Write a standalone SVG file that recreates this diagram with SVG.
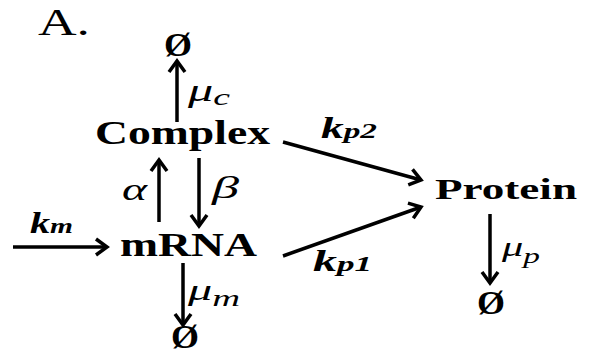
<svg xmlns="http://www.w3.org/2000/svg" width="594" height="355" viewBox="0 0 594 355">
<defs>
<marker id="ah" markerUnits="userSpaceOnUse" markerWidth="18" markerHeight="20" viewBox="0 0 18 20" refX="14" refY="10" orient="auto" overflow="visible">
<path d="M3,2 L14,10 L3,18" fill="none" stroke="#000" stroke-width="3.5" stroke-linejoin="miter"/>
</marker>
</defs>
<style>
text{font-family:'Liberation Serif','Times New Roman',Times,serif;fill:#000}
.node{font-weight:bold}
.k{font-weight:bold;font-style:italic}
.g{font-style:italic}
.null{font-weight:bold;font-size:33px}
.c{stroke:#000;stroke-width:3.5;fill:none;marker-end:url(#ah)}
</style>
<rect width="594" height="355" fill="#fff"/>
<text x="38" y="35" font-size="38" textLength="52" lengthAdjust="spacingAndGlyphs">A.</text>
<g id="connectors">
<line class="c" x1="13" y1="247" x2="107" y2="247"/>
<line class="c" x1="177" y1="122" x2="177" y2="61"/>
<line class="c" x1="159" y1="222" x2="159" y2="160"/>
<line class="c" x1="199" y1="158" x2="199" y2="226"/>
<line class="c" x1="183" y1="263" x2="183" y2="325"/>
<line class="c" x1="283" y1="142" x2="421" y2="180"/>
<line class="c" x1="283" y1="256" x2="421" y2="207"/>
<line class="c" x1="490" y1="214" x2="490" y2="283"/>
</g>
<g id="complex"><text class="node" x="95" y="144" font-size="33" textLength="175" lengthAdjust="spacingAndGlyphs">Complex</text></g>
<g id="mrna"><text class="node" x="120" y="256" font-size="34" textLength="137" lengthAdjust="spacingAndGlyphs">mRNA</text></g>
<g id="protein"><text class="node" x="435" y="199" font-size="30" textLength="142" lengthAdjust="spacingAndGlyphs">Protein</text></g>
<g id="null-c"><text class="null" x="164" y="56" textLength="28" lengthAdjust="spacingAndGlyphs">Ø</text></g>
<g id="null-m"><text class="null" x="171" y="348" font-size="30" textLength="28" lengthAdjust="spacingAndGlyphs">Ø</text></g>
<g id="null-p"><text class="null" x="477" y="314" textLength="28" lengthAdjust="spacingAndGlyphs">Ø</text></g>
<g id="labels">
<text class="k" x="30" y="233" font-size="30" textLength="43" lengthAdjust="spacingAndGlyphs">k<tspan font-size="22">m</tspan></text>
<text class="k" x="321" y="138" font-size="30" textLength="56" lengthAdjust="spacingAndGlyphs">k<tspan font-size="22">p2</tspan></text>
<text class="k" x="313" y="271" font-size="30" textLength="59" lengthAdjust="spacingAndGlyphs">k<tspan font-size="22">p1</tspan></text>
<text class="g" x="188" y="101" font-size="32" textLength="42" lengthAdjust="spacingAndGlyphs">μ<tspan font-size="24" dy="4">c</tspan></text>
<text class="g" x="188" y="300" font-size="30" textLength="52" lengthAdjust="spacingAndGlyphs">μ<tspan font-size="24" dy="6">m</tspan></text>
<text class="g" x="502" y="256" font-size="28" textLength="38" lengthAdjust="spacingAndGlyphs">μ<tspan font-size="22" dy="7">p</tspan></text>
<text class="g" x="122" y="200" font-size="32" textLength="25" lengthAdjust="spacingAndGlyphs">α</text>
<text class="g" x="212" y="198" font-size="32" textLength="27" lengthAdjust="spacingAndGlyphs">β</text>
</g>
</svg>
